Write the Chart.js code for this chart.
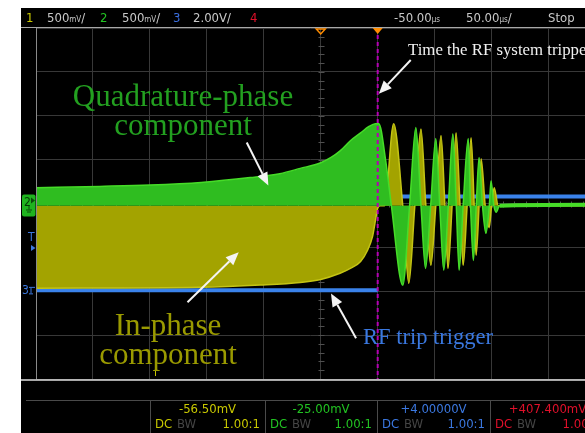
<!DOCTYPE html>
<html>
<head>
<meta charset="utf-8">
<script src="https://cdn.jsdelivr.net/npm/chart.js@4.4.1/dist/chart.umd.min.js"></script>
<style>
  html, body { margin: 0; padding: 0; background: #fff; }
  #wrap { position: relative; width: 585px; height: 433px; overflow: hidden; }
  canvas { position: absolute; left: 0; top: 0; }
  .t { position: absolute; white-space: nowrap; line-height: 1; }
  .hd { font-family: "Liberation Sans Narrow", "DejaVu Sans", sans-serif; font-stretch: condensed; font-size: 13px; color: #c8c8c8; top: 11px; }
  .hd small { font-size: 8px; }
  .ft { font-family: "Liberation Sans Narrow", "DejaVu Sans", sans-serif; font-stretch: condensed; font-size: 13px; }
  .note { font-family: "Liberation Serif", "Times New Roman", serif; text-align: center; }
</style>
</head>
<body>
<div id="wrap">
  <canvas id="scope" width="585" height="433"></canvas>

  <!-- barre du haut -->
  <span class="t hd" style="left:26px;color:#c8c800">1</span>
  <span class="t hd" style="left:47px">500<small>mV</small>/</span>
  <span class="t hd" style="left:100px;color:#22c322">2</span>
  <span class="t hd" style="left:122px">500<small>mV</small>/</span>
  <span class="t hd" style="left:173px;color:#3b6fe0">3</span>
  <span class="t hd" style="left:193px">2.00V/</span>
  <span class="t hd" style="left:250px;color:#e0102a">4</span>
  <span class="t hd" style="left:394px">-50.00<small>µs</small></span>
  <span class="t hd" style="left:466px">50.00<small>µs</small>/</span>
  <span class="t hd" style="left:548px">Stop</span>

  <!-- repères des voies -->
  <span class="t ft" style="left:24px;top:196px;font-size:12px;color:#063806">2</span>
  <span class="t ft" style="left:28px;top:231px;font-size:12px;color:#3b78e0">T</span>
  <span class="t ft" style="left:22px;top:284px;font-size:12px;color:#3b78e0">3</span>

  <!-- annotations -->
  <div class="t note" style="left:63px;top:81px;width:240px;font-size:31px;line-height:29px;color:#23a020">Quadrature-phase<br>component</div>
  <div class="t note" style="left:48px;top:310px;width:240px;font-size:31px;line-height:29px;color:#9a9a00">In-phase<br>component</div>
  <span class="t note" style="left:363px;top:326px;font-size:22.5px;color:#3a78e0">RF trip trigger</span>
  <span class="t note" style="left:408px;top:42px;font-size:16.8px;color:#f0f0f0">Time the RF system tripped</span>

  <div id="footer"></div>
</div>

<script>
const qTimes  = [-300, -244, -200, -155, -112, -86, -68, -50, -41, -33, -24, -15, -8, -2, 1, 7, 12,
                 22, 28, 33.5, 38, 42, 46.5, 51, 54.5, 58, 62, 66, 69, 71.5, 75, 79.5, 81.5, 84, 86.5,
                 89, 92, 95, 98, 99.5, 102, 104, 107, 182];
const qLevels = [0.36, 0.39, 0.42, 0.48, 0.59, 0.68, 0.80, 0.93, 1.05, 1.20, 1.43, 1.61, 1.75, 1.82, 1.82, 0.98, -0.05,
                 -1.86, -0.05, 1.73, -0.05, -1.48, -0.05, 1.48, -0.05, -1.52, -0.05, 1.59, -0.05, -1.52, -0.05, 1.48, -0.05, -1.30, -0.05,
                 1.05, -0.05, -0.68, -0.05, 0.52, -0.05, -0.2, -0.05, -0.03];

const iTimes  = [-300, -156, -103, -68, -50, -33, -24, -15, -9, -4.5, -2, 0, 2, 6, 14, 22, 27.3, 32.6,
                 38, 42.3, 46.7, 51, 55.6, 59, 61.7, 65.3, 68.8, 72.3, 75, 78.5, 82, 84.7, 86.4, 89,
                 90.8, 94.4, 97.9, 100, 102.3, 105.8, 182];
const iLevels = [-1.93, -1.91, -1.86, -1.80, -1.73, -1.59, -1.48, -1.32, -1.07, -0.75, -0.39, -0.11, -0.05, -0.05, 1.82, -0.05, -1.82, -0.05,
                 1.70, -0.05, -1.41, -0.05, 1.55, -0.05, -1.48, -0.05, 1.61, -0.05, -1.41, -0.05, 1.50, -0.05, -1.18, -0.05,
                 1.02, -0.05, -0.55, -0.05, 0.36, -0.05, -0.05];

// null = coupure de la trace au moment du déclenchement
const trigTimes  = [-300, 0, 0, 0, 182];
const trigLevels = [-1.98, -1.98, null, 0.16, 0.16];

const baseLevel = -0.05;
const triggerTime = 0;
const centerTime = -50;
const ringEnd = 107;

const chLabels  = ['-56.50mV', '-25.00mV', '+4.00000V', '+407.400mV'];
const chColors  = ['#c8c800', '#22c322', '#3b78e0', '#e0102a'];
const chProbe   = ['1.00:1', '1.00:1', '1.00:1', '1.00:1'];

function toPoints(times, levels) {
  return times.map((t, i) => ({ x: t, y: levels[i] }));
}

// pied de page : une case par voie
const footer = document.getElementById('footer');
const boxEdges = [150, 265, 377, 490, 605];
chLabels.forEach((lab, i) => {
  const l = boxEdges[i], w = boxEdges[i + 1] - l;
  footer.insertAdjacentHTML('beforeend',
    `<span class="t ft" style="left:${l}px;width:${w}px;text-align:center;top:402px;color:${chColors[i]}">${lab}</span>` +
    `<span class="t ft" style="left:${l + 5}px;top:417px;color:${chColors[i]}">DC</span>` +
    `<span class="t ft" style="left:${l + 27}px;top:417px;color:#444">BW</span>` +
    `<span class="t ft" style="left:${l}px;width:${w - 5}px;text-align:right;top:417px;color:${chColors[i]}">${chProbe[i]}</span>`);
});

// flèches des annotations, en coordonnées du graphe
const arrowNotes = [
  { from: [29, 3.27], to: [1, 2.5] },
  { from: [-115, 1.39], to: [-96, 0.41] },
  { from: [-167, -2.25], to: [-122, -1.11] },
  { from: [-19, -3.07], to: [-41, -2.05] }
];

function drawArrow(ctx, x1, y1, x2, y2) {
  const ang = Math.atan2(y2 - y1, x2 - x1);
  const len = 13, half = 5.5;
  const bx = x2 - len * Math.cos(ang), by = y2 - len * Math.sin(ang);
  ctx.beginPath(); ctx.moveTo(x1, y1); ctx.lineTo(bx, by); ctx.stroke();
  ctx.beginPath();
  ctx.moveTo(x2, y2);
  ctx.lineTo(bx + half * Math.sin(ang), by - half * Math.cos(ang));
  ctx.lineTo(bx - half * Math.sin(ang), by + half * Math.cos(ang));
  ctx.closePath(); ctx.fill();
}

const scopeFrame = {
  id: 'scopeFrame',
  beforeDraw(chart) {
    const ctx = chart.ctx;
    ctx.save();
    ctx.fillStyle = '#000';
    ctx.fillRect(21, 8, chart.width - 21, chart.height - 8);
    ctx.restore();
  },
  beforeDatasetsDraw(chart) {
    // petites graduations des axes centraux
    const { ctx, scales: { x, y } } = chart;
    const cx = Math.round(x.getPixelForValue(centerTime)) + 0.5;
    const cy = Math.round(y.getPixelForValue(0)) + 0.5;
    ctx.save();
    ctx.strokeStyle = '#505050';
    ctx.lineWidth = 1;
    ctx.beginPath();
    for (let v = -4; v <= 4.001; v += 0.2) {
      const py = Math.round(y.getPixelForValue(v)) + 0.5;
      ctx.moveTo(cx - 3, py); ctx.lineTo(cx + 3, py);
    }
    for (let t = -300; t <= 182; t += 10) {
      const px = Math.round(x.getPixelForValue(t)) + 0.5;
      ctx.moveTo(px, cy - 3); ctx.lineTo(px, cy + 3);
    }
    ctx.stroke();
    ctx.restore();
  },
  afterDatasetsDraw(chart) {
    const { ctx, chartArea: a, scales: { x, y } } = chart;
    ctx.save();

    // cadre
    ctx.lineWidth = 1;
    ctx.strokeStyle = '#a8a8a8';
    ctx.beginPath(); ctx.moveTo(21, 27.5); ctx.lineTo(chart.width, 27.5); ctx.stroke();
    ctx.strokeStyle = '#8a8a8a';
    ctx.beginPath(); ctx.moveTo(36.5, a.top); ctx.lineTo(36.5, a.bottom); ctx.stroke();
    ctx.strokeStyle = '#e0e0e0'; ctx.lineWidth = 1.5;
    ctx.beginPath(); ctx.moveTo(21, a.bottom + 1); ctx.lineTo(chart.width, a.bottom + 1); ctx.stroke();
    ctx.strokeStyle = '#4a4a4a'; ctx.lineWidth = 1;
    ctx.beginPath(); ctx.moveTo(26, 400.5); ctx.lineTo(chart.width, 400.5);
    boxEdges.slice(0, 4).forEach(bx => { ctx.moveTo(bx + 0.5, 400.5); ctx.lineTo(bx + 0.5, chart.height); });
    ctx.stroke();

    // ligne du déclenchement
    const tx = x.getPixelForValue(triggerTime);
    ctx.strokeStyle = '#b400b4'; ctx.lineWidth = 2; ctx.setLineDash([4, 3]);
    ctx.beginPath(); ctx.moveTo(tx, a.top); ctx.lineTo(tx, a.bottom); ctx.stroke();
    ctx.setLineDash([]);

    // repères orange en haut
    ctx.fillStyle = '#ff8c00';
    ctx.beginPath(); ctx.moveTo(tx - 5, a.top); ctx.lineTo(tx + 5, a.top); ctx.lineTo(tx, a.top + 6); ctx.closePath(); ctx.fill();
    const dx = x.getPixelForValue(centerTime);
    ctx.strokeStyle = '#ff8c00'; ctx.lineWidth = 1.5;
    ctx.beginPath(); ctx.moveTo(dx - 4.5, a.top + 1); ctx.lineTo(dx + 4.5, a.top + 1); ctx.lineTo(dx, a.top + 6); ctx.closePath(); ctx.stroke();

    // repères des voies à gauche
    const gy = y.getPixelForValue(0);
    ctx.fillStyle = '#1fb31f';
    ctx.beginPath(); ctx.roundRect(22, gy - 9, 13.5, 22, 2); ctx.fill();
    ctx.strokeStyle = '#0a4a0a'; ctx.lineWidth = 1;
    ctx.beginPath();
    ctx.moveTo(29, gy + 2); ctx.lineTo(29, gy + 6);
    ctx.moveTo(26, gy + 6.5); ctx.lineTo(32, gy + 6.5);
    ctx.moveTo(27, gy + 8.5); ctx.lineTo(31, gy + 8.5);
    ctx.stroke();
    ctx.fillStyle = '#0a4a0a';
    ctx.beginPath(); ctx.moveTo(31, gy - 6); ctx.lineTo(35, gy - 3); ctx.lineTo(31, gy); ctx.closePath(); ctx.fill();
    ctx.fillStyle = '#3b78e0';
    ctx.beginPath(); ctx.moveTo(31, 245); ctx.lineTo(35.5, 248); ctx.lineTo(31, 251); ctx.closePath(); ctx.fill();
    const by3 = y.getPixelForValue(trigLevels[0]);
    ctx.strokeStyle = '#3b78e0';
    ctx.beginPath();
    ctx.moveTo(29, by3 - 3); ctx.lineTo(35, by3 - 3);
    ctx.moveTo(31, by3 - 3); ctx.lineTo(31, by3 + 3);
    ctx.moveTo(29, by3 + 3.5); ctx.lineTo(33, by3 + 3.5);
    ctx.stroke();
    ctx.strokeStyle = '#c8c800';
    ctx.beginPath(); ctx.moveTo(155.5, a.bottom - 8); ctx.lineTo(155.5, a.bottom - 3); ctx.stroke();

    // flèches blanches
    ctx.strokeStyle = '#f4f4f4'; ctx.fillStyle = '#f4f4f4'; ctx.lineWidth = 2;
    arrowNotes.forEach(n => {
      drawArrow(ctx,
        x.getPixelForValue(n.from[0]), y.getPixelForValue(n.from[1]),
        x.getPixelForValue(n.to[0]), y.getPixelForValue(n.to[1]));
    });
    ctx.restore();
  }
};

new Chart(document.getElementById('scope'), {
  type: 'line',
  data: {
    datasets: [
      {
        label: 'Quadrature-phase',
        data: toPoints(qTimes, qLevels),
        borderColor: '#46dc28',
        backgroundColor: '#2fbd20',
        borderWidth: 1.5,
        fill: { value: baseLevel },
        pointRadius: 0,
        cubicInterpolationMode: 'monotone',
        segment: { borderWidth: c => (c.p0.parsed.x >= ringEnd ? 4 : undefined) }
      },
      {
        label: 'In-phase',
        data: toPoints(iTimes, iLevels),
        borderColor: '#c4c414',
        backgroundColor: '#a3a300',
        borderWidth: 1.5,
        fill: { value: baseLevel },
        pointRadius: 0,
        cubicInterpolationMode: 'monotone'
      },
      {
        label: 'RF trip trigger',
        data: toPoints(trigTimes, trigLevels),
        borderColor: '#3a82ea',
        borderWidth: 4,
        fill: false,
        spanGaps: false,
        pointRadius: 0
      }
    ]
  },
  options: {
    responsive: false,
    animation: false,
    events: [],
    layout: { padding: { left: 36, top: 28, right: 0, bottom: 54 } },
    plugins: { legend: { display: false }, tooltip: { enabled: false } },
    scales: {
      x: {
        type: 'linear', min: -300, max: 182,
        ticks: { display: false, stepSize: 50, includeBounds: false },
        grid: { color: '#383838', drawTicks: false },
        border: { display: false }
      },
      y: {
        min: -4, max: 4,
        ticks: { display: false, stepSize: 1 },
        grid: { color: '#383838', drawTicks: false },
        border: { display: false }
      }
    }
  },
  plugins: [scopeFrame]
});
</script>
</body>
</html>
